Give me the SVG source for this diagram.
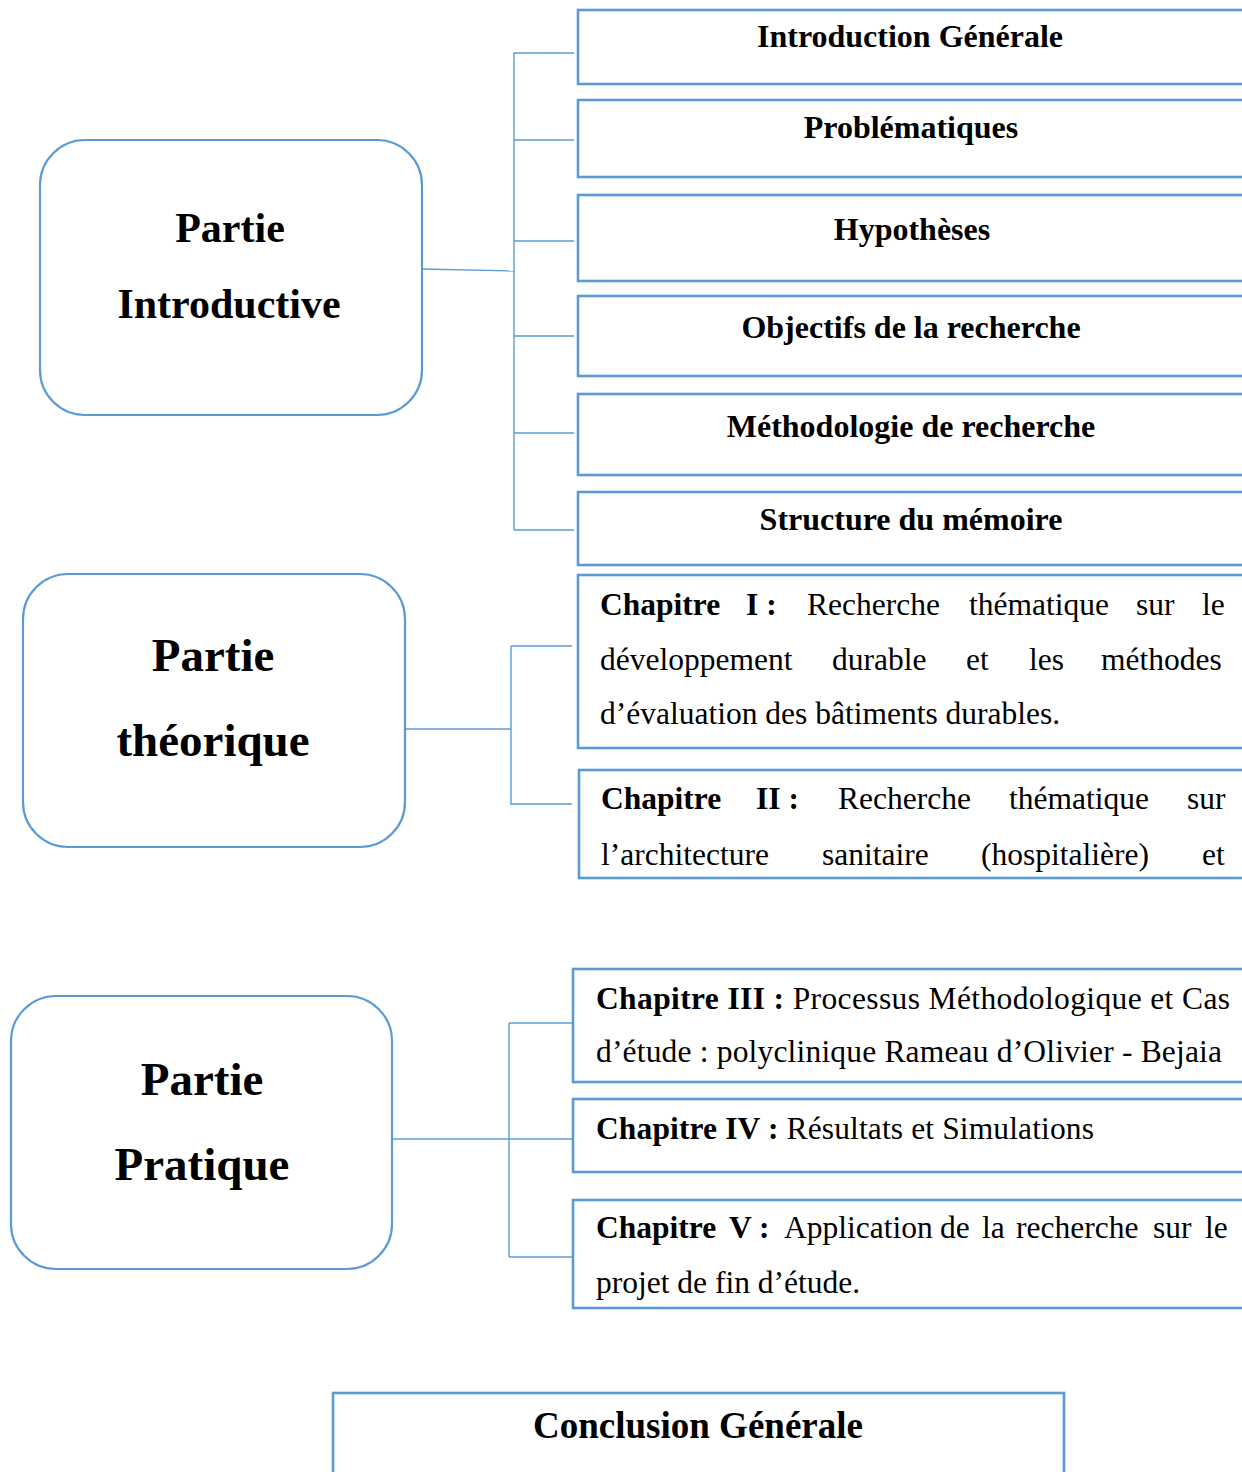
<svg xmlns="http://www.w3.org/2000/svg" width="1242" height="1472" viewBox="0 0 1242 1472">
  <style>
    .part { fill: #ffffff; stroke: #5B9BD5; stroke-width: 2.2; }
    .box { fill: #ffffff; stroke: #5B9BD5; stroke-width: 2.6; }
    .wire { fill: none; stroke: #5B9BD5; stroke-width: 1.4; }
    text { font-family: "Liberation Serif", "Times New Roman", serif; fill: #000000; }
    .ptitle { font-weight: bold; text-anchor: middle; }
    .btitle { font-size: 32px; font-weight: bold; text-anchor: middle; }
    .chap { font-size: 31.5px; }
    .b { font-weight: bold; }
  </style>

  <!-- connectors -->
  <g id="connectors">
    <!-- Partie Introductive bracket -->
    <path class="wire" d="M422,269 L514,271"/>
    <path class="wire" d="M514,53 L514,530"/>
    <path class="wire" d="M514,53 H574 M514,140 H574 M514,241 H574 M514,336 H574 M514,433 H574 M514,530 H574"/>
    <!-- Partie théorique bracket -->
    <path class="wire" d="M405,729 H511"/>
    <path class="wire" d="M511,646 V805"/>
    <path class="wire" d="M511,646 H572 M511,804 H572"/>
    <!-- Partie Pratique bracket -->
    <path class="wire" d="M392,1139 H572"/>
    <path class="wire" d="M509,1023 V1257"/>
    <path class="wire" d="M509,1023 H572 M509,1257 H572"/>
  </g>

  <!-- parts -->
  <g id="partie-introductive">
    <rect class="part" x="40" y="140" width="382" height="275" rx="45" ry="45"/>
    <text class="ptitle" x="230" y="242" font-size="42">Partie</text>
    <text class="ptitle" x="229" y="318" font-size="42">Introductive</text>
  </g>
  <g id="partie-theorique">
    <rect class="part" x="23" y="574" width="382" height="273" rx="45" ry="45"/>
    <text class="ptitle" x="213" y="671" font-size="47">Partie</text>
    <text class="ptitle" x="213" y="756" font-size="47">théorique</text>
  </g>
  <g id="partie-pratique">
    <rect class="part" x="11" y="996" width="381" height="273" rx="45" ry="45"/>
    <text class="ptitle" x="202" y="1095" font-size="47">Partie</text>
    <text class="ptitle" x="202" y="1180" font-size="47">Pratique</text>
  </g>

  <!-- introductory items -->
  <g id="introduction-generale">
    <rect class="box" x="578" y="10" width="680" height="74"/>
    <text class="btitle" x="910" y="47">Introduction Générale</text>
  </g>
  <g id="problematiques">
    <rect class="box" x="578" y="100" width="680" height="77"/>
    <text class="btitle" x="911" y="138">Problématiques</text>
  </g>
  <g id="hypotheses">
    <rect class="box" x="578" y="195" width="680" height="86"/>
    <text class="btitle" x="912" y="240">Hypothèses</text>
  </g>
  <g id="objectifs">
    <rect class="box" x="578" y="296" width="680" height="80"/>
    <text class="btitle" x="911" y="338">Objectifs de la recherche</text>
  </g>
  <g id="methodologie">
    <rect class="box" x="578" y="394" width="680" height="81"/>
    <text class="btitle" x="911" y="437">Méthodologie de recherche</text>
  </g>
  <g id="structure">
    <rect class="box" x="578" y="492" width="680" height="73"/>
    <text class="btitle" x="911" y="530">Structure du mémoire</text>
  </g>

  <!-- theoretical chapters -->
  <g id="chapitre-1">
    <rect class="box" x="578" y="575" width="680" height="173"/>
    <text class="chap" y="615">
      <tspan class="b" x="600">Chapitre</tspan>
      <tspan class="b" x="746">I :</tspan>
      <tspan x="807">Recherche</tspan>
      <tspan x="969">thématique</tspan>
      <tspan x="1136">sur</tspan>
      <tspan x="1202">le</tspan>
    </text>
    <text class="chap" y="670">
      <tspan x="600">développement</tspan>
      <tspan x="832">durable</tspan>
      <tspan x="966">et</tspan>
      <tspan x="1029">les</tspan>
      <tspan x="1101">méthodes</tspan>
    </text>
    <text class="chap" x="600" y="724">d’évaluation des bâtiments durables.</text>
  </g>
  <g id="chapitre-2">
    <rect class="box" x="579" y="770" width="680" height="108"/>
    <text class="chap" y="809">
      <tspan class="b" x="601">Chapitre</tspan>
      <tspan class="b" x="756">II :</tspan>
      <tspan x="838">Recherche</tspan>
      <tspan x="1009">thématique</tspan>
      <tspan x="1187">sur</tspan>
    </text>
    <text class="chap" y="865">
      <tspan x="601">l’architecture</tspan>
      <tspan x="822">sanitaire</tspan>
      <tspan x="981">(hospitalière)</tspan>
      <tspan x="1202">et</tspan>
    </text>
  </g>

  <!-- practical chapters -->
  <g id="chapitre-3">
    <rect class="box" x="573" y="969" width="680" height="113"/>
    <text class="chap" x="596" y="1009" textLength="634" lengthAdjust="spacing"><tspan class="b">Chapitre III :</tspan> Processus Méthodologique et Cas</text>
    <text class="chap" x="596" y="1062" textLength="626" lengthAdjust="spacing">d’étude : polyclinique Rameau d’Olivier - Bejaia</text>
  </g>
  <g id="chapitre-4">
    <rect class="box" x="573" y="1099" width="680" height="73"/>
    <text class="chap" x="596" y="1139" textLength="498" lengthAdjust="spacing"><tspan class="b">Chapitre IV :</tspan> Résultats et Simulations</text>
  </g>
  <g id="chapitre-5">
    <rect class="box" x="573" y="1200" width="680" height="108"/>
    <text class="chap" y="1238">
      <tspan class="b" x="596">Chapitre</tspan>
      <tspan class="b" x="729">V :</tspan>
      <tspan x="784">Application</tspan>
      <tspan x="940">de</tspan>
      <tspan x="982">la</tspan>
      <tspan x="1016">recherche</tspan>
      <tspan x="1153">sur</tspan>
      <tspan x="1205">le</tspan>
    </text>
    <text class="chap" x="596" y="1293">projet de fin d’étude.</text>
  </g>

  <!-- conclusion -->
  <g id="conclusion-generale">
    <rect class="box" x="333" y="1393" width="731" height="100"/>
    <text class="ptitle" x="698" y="1438" font-size="37">Conclusion Générale</text>
  </g>
</svg>
